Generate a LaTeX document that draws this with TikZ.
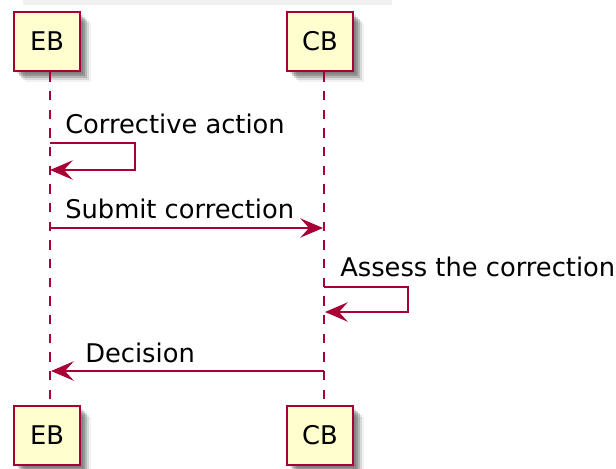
\documentclass[tikz,border=0pt]{standalone}
\usepackage{fontspec}
\setmainfont{DejaVu Sans}
\usetikzlibrary{arrows.meta}
\definecolor{umlborder}{HTML}{A80036}
\definecolor{umlfill}{HTML}{FEFECE}
\tikzset{
  participant/.style={draw=umlborder, line width=2.1pt, fill=umlfill,
    minimum width=66*0.75pt, minimum height=59*0.75pt, inner sep=0pt,
    font=\fontsize{19.3}{23}\selectfont},
  lifeline/.style={draw=umlborder, line width=1.4pt, dash pattern=on 7pt off 7pt},
  msg/.style={draw=umlborder, line width=1.5pt,
    -{Stealth[length=17pt, width=14.5pt, inset=6.5pt]}},
  msglabel/.style={anchor=base west, inner sep=0pt, font=\fontsize{19.3}{23}\selectfont},
}
% soft drop shadow built from a few offset translucent layers
\newcommand{\boxshadow}[1]{%
  \foreach \o/\a in {3/0.12, 5/0.18, 7/0.16, 9/0.10, 11/0.05}{%
    \fill[black, opacity=\a] ([xshift=\o*0.75pt, yshift=-\o*0.75pt]#1.south west)
      rectangle ([xshift=\o*0.75pt, yshift=-\o*0.75pt]#1.north east);}%
}
\begin{document}
\begin{tikzpicture}[x=0.75pt, y=-0.75pt]
\useasboundingbox (0,0) rectangle (616,468);
% faint band along the top edge
\fill[black!6] (23,0) rectangle (392,4.5);

% participant centres
\path
  (47,41.5)  coordinate (ebtopc)
  (320,41.5) coordinate (cbtopc)
  (47,435.5) coordinate (ebbotc)
  (320,435.5) coordinate (cbbotc);
\foreach \c in {ebtopc, cbtopc, ebbotc, cbbotc}{
  \path (\c) node[minimum width=66*0.75pt, minimum height=59*0.75pt, inner sep=0pt] (s\c) {};
  \boxshadow{s\c}
}
\node[participant] (ebtop) at (ebtopc) {EB};
\node[participant] (cbtop) at (cbtopc) {CB};
\node[participant] (ebbot) at (ebbotc) {EB};
\node[participant] (cbbot) at (cbbotc) {CB};

% lifelines
\draw[lifeline] ([xshift=3*0.75pt]ebtop.south) -- ([xshift=3*0.75pt]ebbot.north);
\draw[lifeline] ([xshift=4*0.75pt]cbtop.south) -- ([xshift=4*0.75pt]cbbot.north);

% message anchor points
\coordinate (eb1) at (50,143);
\coordinate (eb1r) at (135,143);
\coordinate (eb1b) at (135,170);
\coordinate (eb1e) at (50,170);
\coordinate (eb2) at (50,228);
\coordinate (cb2) at (323,228);
\coordinate (cb3) at (324,287);
\coordinate (cb3r) at (408,287);
\coordinate (cb3b) at (408,312);
\coordinate (cb3e) at (325,312);
\coordinate (cb4) at (324,371);
\coordinate (eb4) at (51,371);

% messages
\draw[msg] (eb1) -- (eb1r) -- (eb1b) -- (eb1e);
\node[msglabel] (l1) at (65,133) {Corrective action};
\draw[msg] (eb2) -- (cb2);
\node[msglabel] (l2) at (65,218) {Submit correction};
\draw[msg] (cb3) -- (cb3r) -- (cb3b) -- (cb3e);
\node[msglabel] (l3) at (340,276) {Assess the correction};
\draw[msg] (cb4) -- (eb4);
\node[msglabel] (l4) at (85,362) {Decision};
\end{tikzpicture}
\end{document}
